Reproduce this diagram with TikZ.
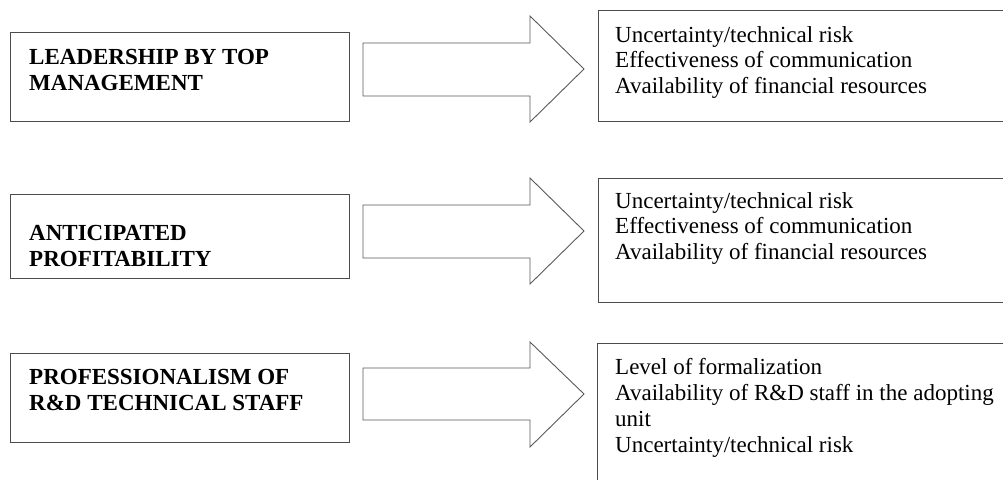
\documentclass[tikz,border=0pt]{standalone}
\usepackage{fontspec}
\setmainfont{Liberation Serif}
\begin{document}
\begin{tikzpicture}[x=1pt,y=-1pt,
  boxline/.style={draw=black!70,line width=1pt},
  arrowline/.style={draw=black!65,line width=0.9pt,line join=miter},
  lefttext/.style={anchor=base west,inner sep=0pt,font=\fontsize{23}{26}\selectfont\bfseries},
  righttext/.style={anchor=base west,inner sep=0pt,font=\fontsize{23}{25.5}\selectfont}]
\useasboundingbox (0,0) rectangle (1003,479);
\clip (0,0) rectangle (1003,479);
% left boxes
\draw[boxline] (10,32) rectangle (349,121);
\draw[boxline] (10,194) rectangle (349,278);
\draw[boxline] (10,353) rectangle (349,442);
\node[lefttext] (l1) at (29,64) {\parbox[t]{300pt}{LEADERSHIP BY TOP\\MANAGEMENT}};
\node[lefttext] (l2) at (29,240) {\parbox[t]{300pt}{ANTICIPATED\\PROFITABILITY}};
\node[lefttext] (l3) at (29,384) {\parbox[t]{300pt}{PROFESSIONALISM OF\\R\&D TECHNICAL STAFF}};
% block arrows
\draw[arrowline] (363,43) -- (530,43) -- (530,16) -- (584,69) -- (530,122) -- (530,96) -- (363,96) -- cycle;
\draw[arrowline] (363,205) -- (530,205) -- (530,178) -- (584,231) -- (530,284) -- (530,258) -- (363,258) -- cycle;
\draw[arrowline] (363,368) -- (530,368) -- (530,342) -- (584,394) -- (530,447) -- (530,420) -- (363,420) -- cycle;
% right boxes
\draw[boxline] (598,10) rectangle (1012,121);
\draw[boxline] (598,178) rectangle (1012,302);
\draw[boxline] (597,343) rectangle (1012,495);
\node[righttext] (r1) at (615,42) {\parbox[t]{390pt}{Uncertainty/technical risk\\Effectiveness of communication\\Availability of financial resources}};
\node[righttext] (r2) at (615,208) {\parbox[t]{390pt}{Uncertainty/technical risk\\Effectiveness of communication\\Availability of financial resources}};
\node[righttext,font=\fontsize{23}{26}\selectfont] (r3) at (615,374) {\parbox[t]{390pt}{Level of formalization\\Availability of R\&D staff in the adopting\\unit\\Uncertainty/technical risk}};
\end{tikzpicture}
\end{document}
